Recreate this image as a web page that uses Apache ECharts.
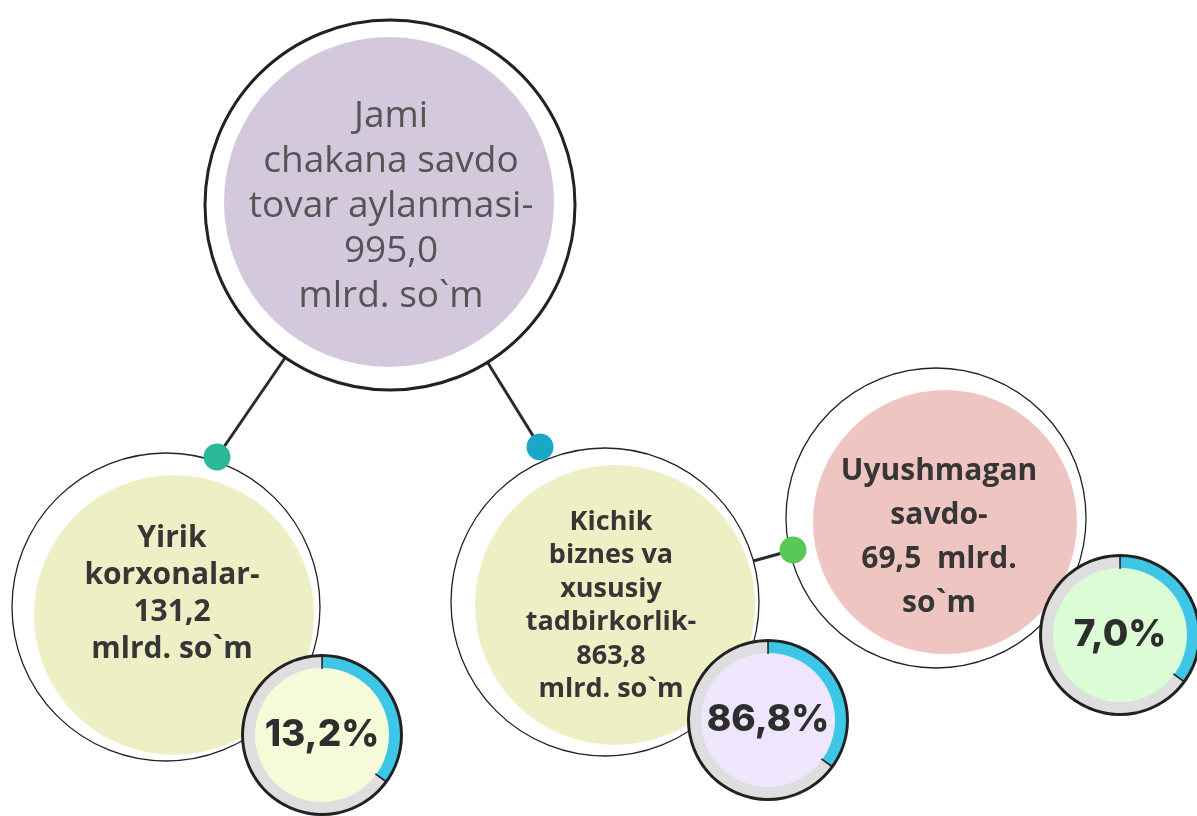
<!DOCTYPE html>
<html>
<head>
<meta charset="utf-8">
<script src="https://cdn.jsdelivr.net/npm/echarts@6/dist/echarts.min.js"></script>
<style>
  html, body { margin: 0; padding: 0; background: #fff; }
  #chart { width: 1197px; height: 816px; }
</style>
</head>
<body>
<div id="chart"></div>
<script>
// data
const categories = ['Jami\nchakana savdo\ntovar aylanmasi', 'Yirik\nkorxonalar', 'Kichik\nbiznes va\nxususiy\ntadbirkorlik', 'Uyushmagan\nsavdo'];
const values = [995.0, 131.2, 863.8, 69.5];
const unitText = ['\nmlrd. so`m', '\nmlrd. so`m', '\nmlrd. so`m', '  mlrd.\nso`m'];
const shares = [13.2, 86.8, 7.0];
const ringFill = [35, 35, 35]; // blue arc as drawn, same on every badge

// layout (pixels)
const ringPos = [[390, 205], [166, 607], [605, 602], [936, 518]];
const ringR = [185, 154, 154, 150];
const fillPos = [[389, 202], [174, 615], [615, 605], [945, 522]];
const fillR = [165, 140, 140, 132];
const dotPos = [[217, 457], [540, 447], [793, 550]];
const dotFrom = [0, 0, 2];
const badgePos = [[322, 735], [768, 720], [1120, 635]];

const fillColors = ['#d3c8dc', '#eeefc5', '#eeefc5', '#efc5c1'];
const dotColors = ['#2db89b', '#1ba8c7', '#5ac857'];
const badgeColors = ['#f5fad9', '#ede6fd', '#dbfcd5'];
const labelOffset = [[2, 4], [-2, -21], [-4, 1], [-6, 15]];
const labelSize = [37, 30, 27, 30];
const labelLine = [45, 37, 33.5, 44];

function fmt(v) {
  return v.toFixed(1).replace('.', ',');
}

const series = [];

series.push({
  type: 'lines',
  coordinateSystem: 'cartesian2d',
  z: 1,
  silent: true,
  lineStyle: { color: '#2b2b2b', width: 3, opacity: 1 },
  data: dotPos.map((p, i) => ({ coords: [ringPos[dotFrom[i]], p] }))
});

series.push({
  type: 'scatter',
  z: 2,
  silent: true,
  symbol: 'circle',
  data: ringPos.map((p, i) => ({
    value: p,
    symbolSize: ringR[i] * 2,
    itemStyle: { color: '#fff', opacity: 1, borderColor: '#222', borderWidth: i === 0 ? 3 : 1.3 }
  }))
});

series.push({
  type: 'scatter',
  z: 3,
  silent: true,
  symbol: 'circle',
  data: fillPos.map((p, i) => ({
    value: p,
    symbolSize: fillR[i] * 2,
    itemStyle: { color: fillColors[i], opacity: 1 },
    label: {
      show: true,
      position: 'inside',
      offset: labelOffset[i],
      formatter: categories[i] + '-\n' + fmt(values[i]) + unitText[i],
      fontFamily: 'Open Sans',
      fontSize: labelSize[i],
      fontWeight: i === 0 ? 'normal' : 'bold',
      color: i === 0 ? '#555' : '#363636',
      lineHeight: labelLine[i],
      align: 'center'
    }
  }))
});

series.push({
  type: 'scatter',
  z: 4,
  silent: true,
  symbol: 'circle',
  data: dotPos.map((p, i) => ({
    value: p,
    symbolSize: 27,
    itemStyle: { color: dotColors[i], opacity: 1 }
  }))
});

shares.forEach((s, i) => {
  const c = badgePos[i];
  const base = { type: 'pie', center: c, silent: true, z: 5, label: { show: false }, labelLine: { show: false } };
  // outer black rim
  series.push(Object.assign({}, base, {
    radius: [77, 81],
    data: [{ value: 1, itemStyle: { color: '#222' } }]
  }));
  // grey / blue band
  series.push(Object.assign({}, base, {
    radius: [66, 78],
    startAngle: 90,
    data: [
      { value: ringFill[i], itemStyle: { color: '#3ec6e6' } },
      { value: 100 - ringFill[i], itemStyle: { color: '#dedede' } }
    ]
  }));
  // inner fill with the share
  series.push(Object.assign({}, base, {
    radius: [0, 67],
    z: 6,
    data: [{ value: 1, itemStyle: { color: badgeColors[i] } }],
    label: {
      show: true,
      position: 'center',
      formatter: fmt(s) + '%',
      fontFamily: 'Inter',
      fontWeight: 800,
      fontSize: 37,
      color: '#2e2e2e'
    }
  }));
  // start / end ticks
  series.push(Object.assign({}, base, {
    radius: [66, 80],
    z: 7,
    startAngle: 90.6,
    data: [
      { value: 0.35, itemStyle: { color: '#222' } },
      { value: ringFill[i] - 0.35, itemStyle: { color: 'rgba(0,0,0,0)' } },
      { value: 0.35, itemStyle: { color: '#222' } },
      { value: 100 - ringFill[i] - 0.35, itemStyle: { color: 'rgba(0,0,0,0)' } }
    ]
  }));
});

const chart = echarts.init(document.getElementById('chart'));
chart.setOption({
  animation: false,
  grid: { left: 0, right: 0, top: 0, bottom: 0 },
  xAxis: { type: 'value', min: 0, max: 1197, show: false },
  yAxis: { type: 'value', min: 0, max: 816, inverse: true, show: false },
  series: series
});

window.addEventListener('resize', () => chart.resize());
</script>
</body>
</html>
